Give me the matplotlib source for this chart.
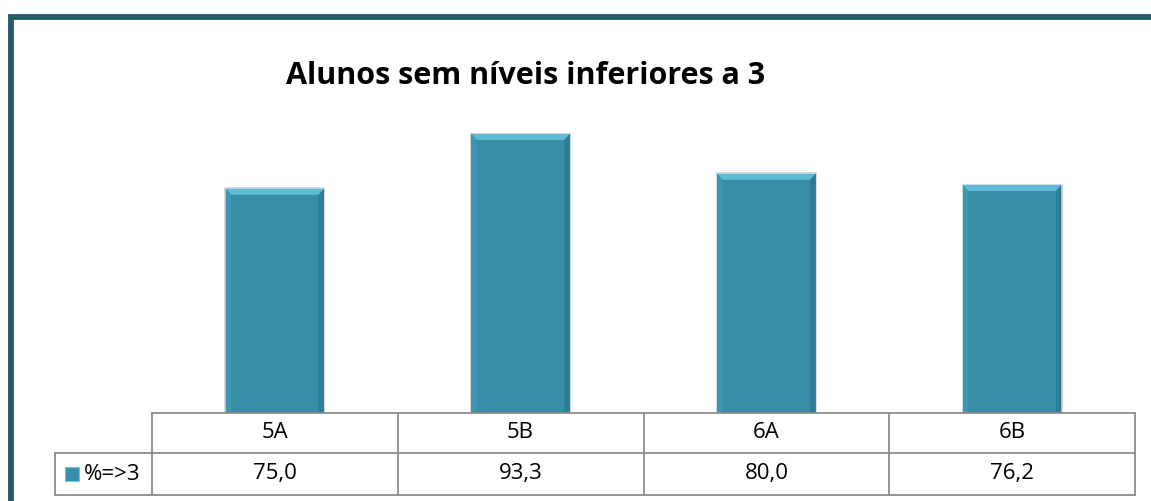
import matplotlib
matplotlib.use("Agg")
import matplotlib.pyplot as plt
from matplotlib.patches import Rectangle, Polygon
from matplotlib.transforms import blended_transform_factory

categories = ["5A", "5B", "6A", "6B"]
values = [75.0, 93.3, 80.0, 76.2]
value_labels = ["75,0", "93,3", "80,0", "76,2"]
series_name = "%=>3"
title = "Alunos sem níveis inferiores a 3"

W, H = 1151, 501
fig = plt.figure(figsize=(W / 100, H / 100), dpi=100)
fig.patch.set_facecolor("white")

def fx(px):
    return px / W

def fy(py):
    return 1 - py / H

# outer border (only top/left visible)
border_col = "#245b69"
fig.add_artist(Rectangle((fx(10.5), fy(520)), fx(1170), fy(16.5) - fy(520),
                         transform=fig.transFigure, fill=False,
                         edgecolor=border_col, lw=4.2, clip_on=False))

# bar axes
ax_left, ax_right = 152, 1135
ax_bottom, ax_top = 413, 114
ax = fig.add_axes([fx(ax_left), fy(ax_bottom), fx(ax_right - ax_left), fy(ax_top) - fy(ax_bottom)])
ax.set_xlim(-0.5, len(categories) - 0.5)
ax.set_ylim(0, 100)
ax.axis("off")

bar_col = "#388da7"
xs = list(range(len(categories)))
bw = 0.4
bars = ax.bar(xs, values, width=bw, color=bar_col, edgecolor="none", zorder=3)
# shadow + bevel accents
for x, v in zip(xs, values):
    ax.add_patch(Rectangle((x - bw / 2 - 0.006, 0), bw + 0.012, v + 0.5,
                           facecolor="#b8c4c8", edgecolor="none", alpha=0.6, zorder=2))
    bev = 2.0
    bx = 0.022
    ax.add_patch(Polygon([(x - bw / 2, v), (x + bw / 2, v), (x + bw / 2 - bx, v - bev),
                          (x - bw / 2 + bx, v - bev)], closed=True,
                         facecolor="#5fbcd8", edgecolor="none", zorder=4))
    ax.add_patch(Polygon([(x - bw / 2, v), (x - bw / 2 + bx, v - bev), (x - bw / 2 + bx, 0),
                          (x - bw / 2, 0)], closed=True,
                         facecolor="#3f96b0", edgecolor="none", zorder=4))
    ax.add_patch(Polygon([(x + bw / 2, v), (x + bw / 2 - bx, v - bev), (x + bw / 2 - bx, 0),
                          (x + bw / 2, 0)], closed=True,
                         facecolor="#2f7d95", edgecolor="none", zorder=4))

# title
fig.text(fx(526), fy(76), title, ha="center", va="center", fontsize=22,
         fontweight="bold", family="Open Sans", color="black")

# data table
tr = blended_transform_factory(ax.transData, fig.transFigure)
line_col = "#8c8c8c"
lw = 1.3
y_head_top, y_mid, y_bot = fy(413), fy(453), fy(495)
x_lo, x_hi = -0.5, len(categories) - 0.5
lbl_left = fx(55)
ax.plot([x_lo, x_hi], [y_head_top, y_head_top], transform=tr, color=line_col, lw=lw, clip_on=False, zorder=5)
fig.add_artist(plt.Line2D([lbl_left, fx(ax_right)], [y_mid, y_mid], transform=fig.transFigure, color=line_col, lw=lw))
fig.add_artist(plt.Line2D([lbl_left, fx(ax_right)], [y_bot, y_bot], transform=fig.transFigure, color=line_col, lw=lw))
fig.add_artist(plt.Line2D([lbl_left, lbl_left], [y_mid, y_bot], transform=fig.transFigure, color=line_col, lw=lw))
for i in range(len(categories) + 1):
    xb = i - 0.5
    ax.plot([xb, xb], [y_head_top, y_bot], transform=tr, color=line_col, lw=lw, clip_on=False, zorder=5)
fs = 16
for x, c, lab in zip(xs, categories, value_labels):
    ax.text(x, (y_head_top + y_mid) / 2, c, transform=tr, ha="center", va="center",
            fontsize=fs, family="Open Sans", color="black")
    ax.text(x, (y_mid + y_bot) / 2, lab, transform=tr, ha="center", va="center",
            fontsize=fs, family="Open Sans", color="black")

# legend key
fig.add_artist(Rectangle((fx(65), fy(481)), fx(14), fy(467) - fy(481), transform=fig.transFigure,
                         facecolor=bar_col, edgecolor="#6fc7e0", lw=0.8))
fig.text(fx(84), (y_mid + y_bot) / 2, series_name, ha="left", va="center",
         fontsize=fs, family="Open Sans", color="black")

fig.savefig("out.png", dpi=100, facecolor="white")
